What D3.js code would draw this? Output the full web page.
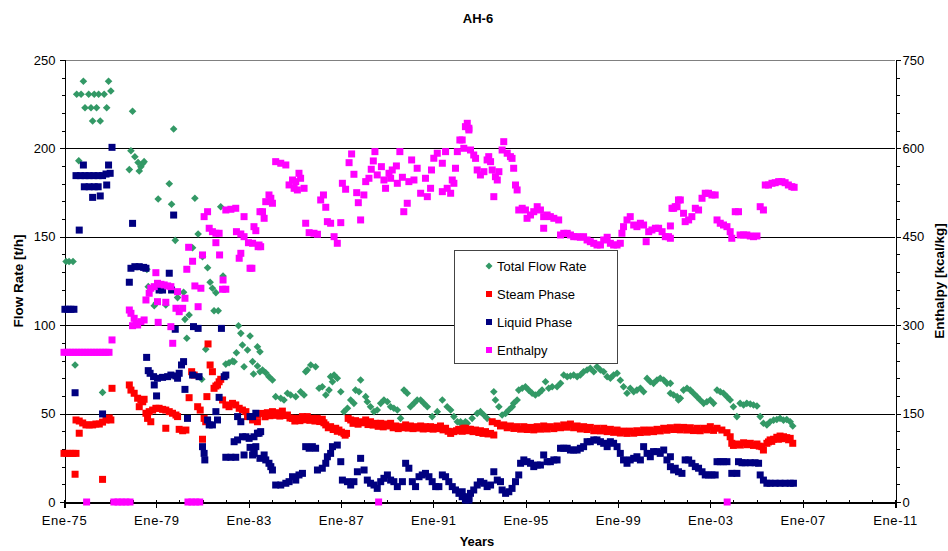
<!DOCTYPE html>
<html>
<head>
<meta charset="utf-8">
<script src="https://cdn.jsdelivr.net/npm/d3@7/dist/d3.min.js"></script>
<style>
  html, body { margin: 0; padding: 0; background: #fff; }
  svg text { font-family: "Liberation Sans", Arial, sans-serif; fill: #000; }
</style>
</head>
<body>
<svg id="chart" width="948" height="551"></svg>
<script>
// Well AH-6: flow rates (t/h, left axis) and enthalpy (kcal/kg, right axis), by decimal year.

const chartTitle = "AH-6";
const seriesNames = ["Total Flow Rate", "Steam Phase", "Liquid Phase", "Enthalpy"];
const xTickYears = [1975, 1979, 1983, 1987, 1991, 1995, 1999, 2003, 2007, 2011];
const xTickLabels = ["Ene-75", "Ene-79", "Ene-83", "Ene-87", "Ene-91", "Ene-95", "Ene-99", "Ene-03", "Ene-07", "Ene-11"];
const flowTicks = [0, 50, 100, 150, 200, 250];
const enthalpyTicks = [0, 150, 300, 450, 600, 750];

// Total flow rate [t/h]
const totalFlow = [
[1975.09,136],[1975.22,136],[1975.39,136],[1975.48,77.5],[1975.64,193],[1975.55,230.6],[1975.74,230.6],[1975.84,238],[1975.91,223],
[1976.07,230.6],[1976.17,223],[1976.24,215.5],[1976.31,230.6],[1976.41,223],[1976.50,230.6],[1976.57,215.5],[1976.67,62],[1976.74,230.6],
[1976.85,223],[1976.93,238],[1977.03,232.5],[1977.83,188],[1977.90,198.7],[1977.97,221],[1978.07,195.3],[1978.21,192],[1978.26,187.2],
[1978.33,189.6],[1978.41,191.5],[1978.47,192.5],[1978.59,131.6],[1978.65,121.8],[1978.91,111],[1978.99,112.4],[1979.08,171.4],
[1979.41,111.4],[1979.56,180],[1979.66,168.4],[1979.75,211],[1979.82,148],[1979.92,115.6],[1980.18,118.6],[1980.24,103.3],[1980.32,92.6],
[1980.42,105.8],[1980.57,143.8],[1980.67,171.8],[1980.81,151.6],[1980.97,69.4],[1981.00,138.7],[1981.14,86.4],[1981.22,132.5],
[1981.33,124.3],[1981.43,120.9],[1981.50,108.2],[1981.58,118.4],[1981.68,108.2],[1981.79,167],[1981.89,127.8],[1982.01,78],
[1982.15,78.8],[1982.30,79.7],[1982.37,79.3],[1982.47,84.4],[1982.56,99.7],[1982.66,95.4],[1982.73,88.8],[1982.80,76.5],[1982.95,86],
[1983.06,93.9],[1983.17,79.4],[1983.21,72.4],[1983.38,76.9],[1983.38,87.8],[1983.49,85],[1983.49,73.7],[1983.60,74.7],[1983.74,73.1],
[1983.88,70.9],[1984.03,69],[1984.17,59.6],[1984.39,58.7],[1984.53,57.7],[1984.68,61.5],[1984.82,60.5],[1985.04,59.6],[1985.25,62.4],
[1985.40,60.5],[1985.47,73.7],[1985.54,74.7],[1985.69,77.5],[1985.90,76.5],[1986.05,64.3],[1986.19,65.2],[1986.34,60.5],[1986.48,63.3],
[1986.55,70.9],[1986.63,68],[1986.70,71.8],[1986.84,70],[1986.99,62.4],[1987.13,51.1],[1987.28,53],[1987.42,57.7],[1987.56,55.8],
[1987.63,63.3],[1987.78,62.4],[1987.85,69],[1988.07,59.6],[1988.14,56.7],[1988.28,53.9],[1988.43,51.1],[1988.57,52],[1988.72,55.8],
[1988.86,57.7],[1989.01,56.7],[1989.15,53.9],[1989.29,53],[1989.44,52],[1989.58,47.3],[1989.73,63.3],[1989.87,61.5],[1990.01,53.9],
[1990.16,55.8],[1990.30,57.7],[1990.45,57.7],[1990.59,55.8],[1990.74,53.9],[1990.95,48.3],[1991.17,51.1],[1991.39,57.7],[1991.60,53.9],
[1991.75,52],[1991.89,48.3],[1992.04,45.4],[1992.18,44.5],[1992.18,45.4],[1992.32,43.6],[1992.39,45.4],[1992.47,44.5],[1992.68,47.3],
[1992.90,50.1],[1993.04,51.1],[1993.19,49.2],[1993.33,47.3],[1993.62,62.4],[1993.69,57.7],[1993.84,53.9],[1993.98,49.2],[1994.13,50.1],
[1994.27,52],[1994.42,53.9],[1994.48,55.8],[1994.63,57.7],[1994.70,63.3],[1994.85,64.3],[1994.99,65.2],[1995.13,63.3],[1995.28,61.5],
[1995.42,60.5],[1995.57,61.5],[1995.71,63.3],[1995.86,68],[1996.00,64.3],[1996.15,65.2],[1996.36,65.2],[1996.51,67.1],[1996.65,71.8],
[1996.80,70.9],[1996.94,71.3],[1997.08,71.8],[1997.23,70.9],[1997.37,71.8],[1997.51,73.7],[1997.66,74.7],[1997.80,75.6],[1997.95,73.7],
[1998.09,76.5],[1998.24,74.7],[1998.38,73.7],[1998.53,70.9],[1998.67,70],[1998.81,71.8],[1998.96,72.8],[1999.10,68.9],[1999.24,65.2],
[1999.39,61.5],[1999.53,64.3],[1999.68,62.4],[1999.82,63.3],[1999.97,64.3],[2000.11,62.4],[2000.26,69.9],[2000.40,68],[2000.54,67.1],
[2000.69,69],[2000.83,70],[2000.98,69],[2001.12,67.1],[2001.27,61.5],[2001.27,67.1],[2001.41,60.5],[2001.56,59.6],[2001.62,57.7],
[2001.70,58.7],[2001.84,63.3],[2001.99,64.3],[2002.13,63.3],[2002.27,61.5],[2002.42,59.6],[2002.56,57.7],[2002.71,55.8],[2002.85,56.7],
[2003.00,57.7],[2003.14,55.8],[2003.29,63.3],[2003.43,62.4],[2003.57,61.5],[2003.72,59.6],[2003.86,57.7],[2004.00,53.9],[2004.15,48.3],
[2004.29,55.8],[2004.44,54.9],[2004.58,55.8],[2004.73,55.4],[2004.87,54.9],[2005.02,54.3],[2005.16,48.3],[2005.30,44.5],[2005.45,43.6],
[2005.59,45.4],[2005.74,46.3],[2005.88,46.7],[2006.02,47.3],[2006.17,46.3],[2006.31,46.7],[2006.46,45.4],[2006.57,43]
];

// Steam phase [t/h]
const steamPhase = [
[1975.00,27.5],[1975.13,27.5],[1975.26,27.5],[1975.39,27.5],[1975.52,27.5],[1975.48,15.7],[1975.66,38.9],[1975.52,46.4],[1975.66,45.8],
[1975.81,44.7],[1975.95,43.6],[1976.09,43.6],[1976.24,43.6],[1976.38,44.1],[1976.53,44.1],[1976.67,45.2],[1976.67,12.8],[1976.82,46.4],
[1976.96,47.5],[1977.03,46.4],[1977.08,64.3],[1977.83,66.2],[1977.90,63.3],[1978.04,61.5],[1978.19,58.7],[1978.26,53.9],[1978.33,57.7],
[1978.41,56.7],[1978.47,58.1],[1978.55,50.2],[1978.62,47.3],[1978.69,51.1],[1978.76,45.4],[1978.84,52],[1978.98,53],[1979.12,53],
[1979.27,52.4],[1979.41,52],[1979.41,41.7],[1979.56,51.1],[1979.70,50.2],[1979.85,49.2],[1979.92,48.3],[1979.99,41.1],[1980.14,40.3],
[1980.28,40.7],[1980.42,59],[1980.53,73.7],[1980.64,71.8],[1980.79,53.9],[1980.90,52],[1981.00,35.5],[1981.07,47.3],[1981.14,45.4],
[1981.19,59.6],[1981.24,89.4],[1981.33,77.5],[1981.43,73.7],[1981.50,64.3],[1981.58,65.6],[1981.65,66.2],[1981.72,68],[1981.79,69.4],
[1981.87,57.7],[1982.01,54.9],[1982.15,53.9],[1982.30,55.8],[1982.44,54.9],[1982.59,53],[1982.73,52],[1982.88,51.1],[1982.95,48.3],
[1983.17,46.4],[1983.17,48.3],[1983.38,45.4],[1983.38,49.2],[1983.60,50.1],[1983.81,50.5],[1984.03,51.1],[1984.25,50.5],[1984.46,51.4],
[1984.68,49.2],[1984.90,47.3],[1985.11,47.3],[1985.33,48.3],[1985.54,48.3],[1985.76,47.3],[1985.97,47.3],[1986.19,46.8],[1986.34,43.6],
[1986.55,42.6],[1986.77,41.7],[1986.91,40.7],[1987.13,38.8],[1987.24,38.8],[1987.31,47.3],[1987.42,46.4],[1987.63,46],[1987.85,45.4],
[1988.07,46.4],[1988.28,45.4],[1988.50,44.5],[1988.72,44.5],[1988.93,44.1],[1989.15,44.5],[1989.37,43],[1989.58,42.6],[1989.80,43.6],
[1990.01,43],[1990.23,42.6],[1990.45,43],[1990.66,42.6],[1990.88,42.6],[1991.10,42.2],[1991.31,43],[1991.53,41.7],[1991.75,38.8],
[1991.89,39.8],[1992.10,41.1],[1992.18,40.7],[1992.32,41.7],[1992.39,41.7],[1992.54,41.1],[1992.61,41.1],[1992.83,40.7],[1993.04,40.3],
[1993.26,39.8],[1993.48,38.8],[1993.62,37.9],[1993.55,45.4],[1993.77,44.5],[1994.05,43.6],[1994.34,43],[1994.63,42.6],[1994.92,42.6],
[1995.21,42.2],[1995.50,42.6],[1995.78,43],[1996.07,42.6],[1996.36,43],[1996.65,43.6],[1996.94,44.1],[1997.23,43],[1997.51,42.6],
[1997.80,42.2],[1998.09,41.7],[1998.38,41.7],[1998.67,41.1],[1998.96,40.7],[1999.24,40.1],[1999.53,40.1],[1999.82,40.3],[2000.11,40.7],
[2000.40,40.7],[2000.69,41.1],[2000.98,41.7],[2001.27,42],[2001.56,42.3],[2001.84,42.2],[2002.13,42],[2002.42,41.7],[2002.71,41.7],
[2003.00,42.6],[2003.29,41.7],[2003.50,40.7],[2003.72,39.2],[2003.86,36.9],[2003.93,33.2],[2004.15,32.8],[2004.44,33.5],[2004.73,33.2],
[2005.02,32.8],[2005.23,31.3],[2005.30,29.4],[2005.45,33.2],[2005.59,35.1],[2005.74,35.5],[2005.88,36.6],[2006.02,37.3],[2006.17,36.9],
[2006.31,36.4],[2006.46,36],[2006.57,33.2],
// lower edge of the steam band, read between the samples above
[1983.71,48.2],[1983.92,48.8],[1984.14,49],[1984.35,48.6],[1984.57,48.9],[1984.79,47.5],[1985.00,45.8],[1985.22,46],[1985.44,46.5],
[1985.65,46.2],[1985.87,45.8],[1986.08,45.5],[1986.26,44.8],[1986.45,42],[1986.66,41],[1986.84,40],[1987.02,39.5],[1987.18,37.8],
[1987.52,44.5],[1987.74,44],[1987.96,44.8],[1988.17,43.8],[1988.39,43.5],[1988.61,42.8],[1988.83,42.5],[1989.04,43],[1989.26,42],
[1989.48,41.5],[1989.69,42],[1989.91,41.8],[1990.12,41.5],[1990.34,41.8],[1990.56,41.3],[1990.77,41.5],[1990.99,41.2],[1991.20,41.5],
[1991.42,40.8],[1991.64,40],[1992.00,40.3],[1992.25,40],[1992.47,40.3],[1992.72,39.8],[1992.97,39.3],[1993.15,38.8],[1993.37,38.5],
[1993.91,43],[1994.20,42],[1994.49,41.6],[1994.78,41.2],[1995.07,41],[1995.35,40.8],[1995.64,41.2],[1995.93,41.3],[1996.22,41.5],
[1996.51,42],[1996.80,42.3],[1997.08,42],[1997.37,41.3],[1997.66,41],[1997.95,40.3],[1998.24,40.2],[1998.53,39.8],[1998.81,39.4],
[1999.10,39],[1999.39,38.8],[1999.68,38.9],[1999.97,39.3],[2000.26,39.5],[2000.54,39.8],[2000.83,40.2],[2001.12,40.6],[2001.41,41],
[2001.70,40.8],[2001.99,40.7],[2002.27,40.4],[2002.56,40.3],[2002.85,40.8],[2003.14,40.5],[2004.00,32],[2004.30,32.2],[2004.60,32.4],
[2004.87,32],[2005.12,31.6],[2005.52,34],[2005.66,34.3],[2005.95,35.5],[2006.10,35.8],[2006.39,35.2]
];

// Liquid phase [t/h]
const liquidPhase = [
[1975.04,109],[1975.17,109],[1975.30,109],[1975.43,109],[1975.48,61.8],[1975.66,153.8],[1975.84,190.6],[1975.52,184.6],[1975.71,184.6],
[1975.91,184.6],[1976.09,184.6],[1976.29,184.6],[1976.48,184.6],[1976.67,184.6],[1976.67,49.8],[1976.82,185.5],[1976.85,179.3],
[1977.00,185.9],[1976.93,190.6],[1975.88,178.3],[1976.09,178.3],[1976.31,178.3],[1976.48,178.3],[1976.24,172.3],[1976.57,173.1],
[1977.08,200.6],[1977.97,157.6],[1977.83,124.3],[1977.90,132.2],[1978.07,133.1],[1978.26,133.1],[1978.45,132.7],[1978.55,132.2],
[1979.56,129.4],[1979.75,162.3],[1978.58,81.8],[1978.65,74.3],[1978.73,72.8],[1978.88,70.9],[1979.05,70],[1979.27,70.5],[1979.49,70.9],
[1979.63,71.8],[1979.85,71.3],[1979.92,70],[1979.99,72.8],[1980.09,77.5],[1980.18,79.4],[1978.91,66.2],[1979.01,60],[1979.12,119.9],
[1979.27,119.9],[1979.66,119.9],[1979.82,97.7],[1980.24,63.7],[1980.35,47.3],[1980.61,99.2],[1980.81,98.2],[1980.57,71.8],[1980.85,70.9],
[1981.00,31.3],[1981.07,27.5],[1981.10,23.8],[1981.22,46.4],[1981.29,43.6],[1981.43,43.6],[1981.58,51.1],[1981.65,46.4],[1981.72,59.2],
[1981.94,70.9],[1982.01,71.8],[1981.82,98.2],[1982.01,25.3],[1982.23,25.3],[1982.44,25.3],[1982.37,34.1],[1982.52,35.1],[1982.73,36.9],
[1982.88,36.9],[1983.02,36],[1982.80,26.6],[1983.06,30.9],[1983.23,27.5],[1983.38,38.9],[1983.49,24.7],[1982.52,48.3],[1982.66,45.4],
[1983.06,48.3],[1983.31,50.2],[1983.17,48.3],[1983.23,36.9],[1983.45,38.9],[1983.52,39.8],[1983.31,31.3],[1983.23,28.5],[1983.17,26.6],
[1983.67,26.6],[1983.74,23.8],[1983.88,21.9],[1983.96,20],[1984.03,18.1],[1984.17,9.6],[1984.39,9.6],[1984.61,10.6],[1984.75,11.5],
[1984.90,14.3],[1985.04,12.4],[1985.18,15.3],[1985.33,16.2],[1985.47,31.3],[1985.62,30.4],[1985.76,31.3],[1985.90,30.4],[1985.98,18.1],
[1986.19,19.1],[1986.34,21.9],[1986.41,25.6],[1986.55,27.5],[1986.63,31.3],[1986.84,32.2],[1986.99,22.8],[1987.06,12.4],[1987.28,11.5],
[1987.42,9.6],[1987.56,11.5],[1987.71,17.1],[1987.85,24.7],[1988.00,18.1],[1988.14,12.4],[1988.28,10.6],[1988.43,9.6],[1988.57,7.7],
[1988.72,11.5],[1988.86,13.4],[1989.01,15.3],[1989.15,12.4],[1989.29,11.5],[1989.44,8.7],[1989.66,11.5],[1989.80,21.9],[1989.94,19.1],
[1990.09,11.5],[1990.23,8.7],[1990.38,14.3],[1990.52,15.3],[1990.66,16.2],[1990.81,14.3],[1990.95,11.5],[1991.10,8.7],[1991.24,8.7],
[1991.39,15.3],[1991.53,14.3],[1991.67,11.5],[1991.82,8.7],[1991.96,6.8],[1992.11,4.9],[1992.25,3],[1992.25,5.8],[1992.39,1.1],
[1992.39,3],[1992.54,2.1],[1992.54,1.1],[1992.61,4.9],[1992.75,6.8],[1992.90,9.6],[1993.04,11.5],[1993.19,10.6],[1993.33,8.7],
[1993.48,9.6],[1993.62,17.1],[1993.77,12.4],[1993.91,11.5],[1993.98,6.8],[1994.13,4.9],[1994.27,5.8],[1994.41,7.7],[1994.56,11.5],
[1994.70,15.3],[1994.78,21.9],[1994.92,23.8],[1995.06,22.8],[1995.21,21.9],[1995.35,20],[1995.50,20.9],[1995.64,20.9],[1995.78,26.6],
[1995.93,22.8],[1996.07,22.8],[1996.22,23.8],[1996.36,23.8],[1996.51,30.4],[1996.65,30.4],[1996.80,30.4],[1996.94,29.4],[1997.08,29.4],
[1997.23,29.4],[1997.37,30.4],[1997.51,31.3],[1997.66,34.1],[1997.80,34.1],[1997.95,35.1],[1998.09,35.1],[1998.24,34.1],[1998.38,33.2],
[1998.53,31.3],[1998.67,34.1],[1998.81,33.2],[1998.96,31.3],[1999.10,27.5],[1999.24,23.8],[1999.39,21.9],[1999.53,23.8],[1999.68,24.7],
[1999.82,25.6],[1999.97,23.8],[2000.11,31.3],[2000.26,27.5],[2000.40,25.6],[2000.54,28.5],[2000.69,28.5],[2000.83,27.5],[2000.98,29.4],
[2001.12,23.8],[2001.27,20],[2001.27,25.6],[2001.41,18.1],[2001.48,19.1],[2001.62,17.1],[2001.77,16.2],[2001.91,23.8],[2002.06,23.8],
[2002.20,21.9],[2002.35,20],[2002.49,19.1],[2002.64,17.1],[2002.78,15.3],[2002.92,15.3],[2003.07,15.3],[2003.21,15.3],[2003.29,22.8],
[2003.43,22.8],[2003.57,22.8],[2003.72,22.8],[2003.93,16.2],[2004.15,16.2],[2004.22,22.8],[2004.37,22.2],[2004.51,22.2],[2004.73,22.2],
[2004.94,22.2],[2005.09,21.9],[2005.16,15.3],[2005.30,12.4],[2005.45,10.6],[2005.59,10.6],[2005.81,10.6],[2006.02,10.6],[2006.24,10.6],
[2006.46,10.6],[2006.60,10.6]
];

// Enthalpy [kcal/kg]
const enthalpy = [
[1975.00,254],[1975.13,254],[1975.26,254],[1975.39,254],[1975.52,254],[1975.65,254],[1975.78,254],[1975.91,254],[1976.04,254],
[1976.17,254],[1976.30,254],[1976.43,254],[1976.56,254],[1976.69,254],[1976.82,254],[1976.95,254],[1977.08,275],[1975.98,0],
[1977.16,0],[1977.34,0],[1977.51,0],[1977.68,0],[1977.86,0],[1980.37,0],[1980.54,0],[1980.71,0],[1980.88,0],[1988.63,0],[2003.73,0],
[1977.83,325.8],[1977.90,320.2],[1978.04,311.7],[1978.12,303.2],[1977.97,299.2],[1978.19,300.4],[1978.33,306],[1978.47,308.9],
[1978.55,342.8],[1978.69,354.2],[1978.76,362.7],[1978.91,365.4],[1979.05,371.1],[1979.05,339.9],[1979.08,304.9],[1979.20,369.4],
[1979.34,368.3],[1979.49,366.6],[1979.63,365.4],[1979.63,297.5],[1979.71,269.3],[1978.98,389.1],[1979.41,338.9],[1979.92,356.9],
[1980.24,345.7],[1979.85,328.7],[1979.99,322.9],[1980.14,328.7],[1980.32,394.9],[1980.40,432.2],[1980.57,408.5],[1981.00,419.2],
[1980.67,366.6],[1980.93,362.7],[1980.81,331.4],[1981.07,484.2],[1981.22,492.6],[1981.29,464.5],[1981.43,458.7],[1981.58,456],
[1981.58,440],[1981.72,456],[1981.74,419.2],[1981.89,376.7],[1981.87,361],[1982.01,361],[1982.01,495.5],[1982.23,496.7],[1982.44,498.4],
[1982.80,484.2],[1982.47,458.7],[1982.66,454.8],[1982.66,422],[1982.80,450.2],[1982.99,440],[1983.06,396.6],[1983.23,467.2],
[1983.31,460.4],[1983.49,492.6],[1983.41,433.2],[1982.59,413.6],[1983.17,439],[1983.45,436.1],[1983.52,433.2],[1983.14,396.6],
[1983.60,492.6],[1983.67,481.4],[1983.74,509.6],[1983.88,521],[1983.96,515.4],[1984.03,506.9],[1984.17,577.5],[1984.39,574.8],
[1984.61,571.9],[1984.75,538],[1984.90,546.4],[1985.04,543.6],[1985.18,557.8],[1985.25,549.3],[1985.40,532.3],[1984.97,532.3],
[1985.11,529.5],[1985.47,473],[1985.62,457],[1985.83,456],[1985.98,454.3],[1986.12,512.5],[1986.24,521],[1986.34,500.1],[1986.41,475.7],
[1986.55,473],[1986.70,450.2],[1986.84,439],[1986.99,474],[1987.06,540.8],[1987.20,530.7],[1987.35,575.8],[1987.46,590.6],[1987.56,556.1],
[1987.68,524.9],[1987.75,507.9],[1987.85,478.6],[1987.99,521],[1988.07,543.6],[1988.21,549.3],[1988.31,564.6],[1988.40,578.7],
[1988.47,594.5],[1988.57,555],[1988.75,569],[1988.86,546.4],[1988.93,532.3],[1989.08,557.8],[1989.22,563.4],[1989.40,570.2],
[1989.55,594.5],[1989.15,549.3],[1989.44,540.8],[1989.66,551],[1989.87,506.9],[1989.72,492.6],[1989.94,543.6],[1990.16,546.4],
[1990.30,566.3],[1990.45,523.9],[1990.66,549.3],[1990.74,518.1],[1990.88,532.3],[1990.92,563.4],[1990.06,580.4],[1991.02,583.3],
[1991.17,591.8],[1991.39,574.8],[1991.53,594.5],[1991.39,526.6],[1991.60,532.3],[1991.75,523.9],[1991.82,546.4],[1991.89,540.8],
[1991.96,566.3],[1992.04,594.5],[1992.15,614.3],[1992.32,600.2],[1992.39,636.9],[1992.47,642.6],[1992.54,634.2],[1992.54,631.3],
[1992.25,614.3],[1992.61,597.3],[1992.75,588.8],[1992.83,583.1],[1992.90,563.4],[1993.04,554.9],[1993.19,560.5],[1993.33,580.4],
[1993.40,586],[1993.48,577.5],[1993.55,563.4],[1993.62,518.1],[1993.69,552],[1993.77,546.4],[1993.84,560.5],[1993.98,597.3],
[1994.05,611.4],[1994.20,591.8],[1994.34,586],[1994.41,583.1],[1994.48,566.3],[1994.56,537.9],[1994.63,529.5],[1994.70,495.5],
[1994.85,498.4],[1994.99,495.5],[1995.06,481.4],[1995.21,487],[1995.35,492.6],[1995.50,501.1],[1995.64,495.5],[1995.78,484.2],
[1995.78,464.5],[1995.93,487],[1996.07,484.2],[1996.22,481.4],[1996.43,478.6],[1996.51,453.1],[1996.65,455.9],[1996.80,455.9],
[1996.94,453.1],[1997.08,450.2],[1997.23,450.2],[1997.37,449.2],[1997.51,450.2],[1997.66,444.6],[1997.80,441.7],[1997.95,438.9],
[1998.09,436.1],[1998.24,436.1],[1998.38,444.6],[1998.53,449.2],[1998.67,439],[1998.81,436.1],[1998.96,436.1],[1999.10,439],
[1999.17,456],[1999.24,467.2],[1999.39,478.6],[1999.53,484.2],[1999.68,470],[1999.82,467.2],[1999.97,473],[2000.11,470],[2000.22,441.7],
[2000.33,458.7],[2000.47,461.6],[2000.62,464.5],[2000.76,464.5],[2000.91,458.7],[2001.05,450.2],[2001.19,450.2],[2001.27,468.4],
[2001.27,447.5],[2001.34,498.4],[2001.41,498.4],[2001.48,501.1],[2001.56,501.1],[2001.62,512.5],[2001.70,512.5],[2001.84,489.9],
[2001.91,475.7],[2002.06,478.6],[2002.20,484.2],[2002.35,498.4],[2002.49,495.5],[2002.64,515.4],[2002.78,523.9],[2002.92,523.9],
[2003.07,521],[2003.21,521],[2003.29,478.6],[2003.43,473],[2003.57,470],[2003.72,467.2],[2003.86,458.7],[2003.93,447.5],[2004.08,492.6],
[2004.22,492.6],[2004.29,453.1],[2004.44,453.1],[2004.58,453.1],[2004.73,451.4],[2004.87,450.2],[2005.02,451.4],[2005.16,501.1],
[2005.30,495.5],[2005.38,537.9],[2005.52,537.9],[2005.67,540.8],[2005.81,541.8],[2005.96,543.6],[2006.10,543.6],[2006.24,541.8],
[2006.38,537.9],[2006.53,535.1],[2006.63,534]
];

const colors = { total: "#339966", steam: "#ff0000", liquid: "#000080", enthalpy: "#ff00ff" };
const font = '"Liberation Sans", Arial, sans-serif';

const svg = d3.select("#chart");
const plot = { left: 64, right: 895, top: 60, bottom: 502 };

const x = d3.scaleLinear().domain([1975, 2011]).range([plot.left, plot.right]);
const yFlow = d3.scaleLinear().domain([0, 250]).range([plot.bottom, plot.top]);
const yEnth = d3.scaleLinear().domain([0, 750]).range([plot.bottom, plot.top]);

// Horizontal gridlines on major flow ticks
svg.append("g").selectAll("line").data(flowTicks.filter(v => v > 0)).join("line")
  .attr("x1", plot.left).attr("x2", plot.right)
  .attr("y1", d => Math.round(yFlow(d)) + 0.5).attr("y2", d => Math.round(yFlow(d)) + 0.5)
  .attr("stroke", d => d === 250 ? "#808080" : "#000").attr("stroke-width", 1);

// Left axis
const gL = svg.append("g").attr("transform", `translate(${plot.left + 0.5},0)`)
  .call(d3.axisLeft(yFlow).tickValues(flowTicks).tickSize(5).tickPadding(4));
const gLm = svg.append("g").attr("transform", `translate(${plot.left + 0.5},0)`)
  .call(d3.axisLeft(yFlow).tickValues(d3.range(0, 251, 10)).tickSize(3).tickFormat(""));
gLm.select(".domain").remove();

// Right axis
const gR = svg.append("g").attr("transform", `translate(${plot.right + 0.5},0)`)
  .call(d3.axisRight(yEnth).tickValues(enthalpyTicks).tickSize(5).tickPadding(2));
const gRm = svg.append("g").attr("transform", `translate(${plot.right + 0.5},0)`)
  .call(d3.axisRight(yEnth).tickValues(d3.range(0, 751, 30)).tickSize(4).tickFormat(""));
gRm.select(".domain").remove();

// Bottom axis: yearly minor ticks inside, labelled major ticks every four years
const gB = svg.append("g").attr("transform", `translate(0,${plot.bottom + 0.5})`)
  .call(d3.axisBottom(x).tickValues(xTickYears).tickSize(5).tickPadding(8)
    .tickFormat((d, i) => xTickLabels[i]));
gB.selectAll(".tick line").attr("y1", -3);
const gBm = svg.append("g").attr("transform", `translate(0,${plot.bottom + 0.5})`)
  .call(d3.axisBottom(x).tickValues(d3.range(1975, 2012, 1)).tickSize(-3).tickFormat(""));
gBm.select(".domain").remove();

[gL, gLm, gR, gRm, gB, gBm].forEach(g => {
  g.selectAll("line, path").attr("stroke", "#000").attr("shape-rendering", "crispEdges");
  g.selectAll("text").attr("font-size", 13).attr("fill", "#000").style("font-family", font);
});
gB.selectAll("text").attr("letter-spacing", 0.6);
gB.select(".domain").attr("stroke-width", 2);

// Markers
const half = 3.5;
const diamond = `M0,${-half - 0.3}L${half + 0.3},0L0,${half + 0.3}L${-half - 0.3},0Z`;

svg.append("g").selectAll("path").data(totalFlow).join("path")
  .attr("d", diamond)
  .attr("transform", d => `translate(${x(d[0])},${yFlow(d[1])})`)
  .attr("fill", colors.total);

function squares(data, yScale, color) {
  svg.append("g").selectAll("rect").data(data).join("rect")
    .attr("x", d => x(d[0]) - half).attr("y", d => yScale(d[1]) - half)
    .attr("width", half * 2).attr("height", half * 2)
    .attr("fill", color);
}
squares(steamPhase, yFlow, colors.steam);
squares(liquidPhase, yFlow, colors.liquid);
squares(enthalpy, yEnth, colors.enthalpy);

// Titles
svg.append("text").attr("x", 478).attr("y", 23).attr("text-anchor", "middle")
  .attr("font-size", 13).attr("font-weight", "bold").text(chartTitle);
svg.append("text").attr("x", 477).attr("y", 546).attr("text-anchor", "middle")
  .attr("font-size", 13).attr("font-weight", "bold").text("Years");
svg.append("text").attr("transform", `translate(23,${(plot.top + plot.bottom) / 2}) rotate(-90)`)
  .attr("text-anchor", "middle").attr("font-size", 13.5).attr("font-weight", "bold").text("Flow Rate [t/h]");
svg.append("text").attr("transform", `translate(944,${(plot.top + plot.bottom) / 2}) rotate(-90)`)
  .attr("text-anchor", "middle").attr("font-size", 13.5).attr("font-weight", "bold").text("Enthalpy [kcal/kg]");

// Legend
const legend = svg.append("g");
legend.append("rect").attr("x", 454.5).attr("y", 250.5).attr("width", 163).attr("height", 113)
  .attr("fill", "#fff").attr("stroke", "#444").attr("stroke-width", 1);
const legendColors = [colors.total, colors.steam, colors.liquid, colors.enthalpy];
seriesNames.forEach((name, i) => {
  const cy = 266 + i * 28;
  if (i === 0) {
    legend.append("path").attr("d", `M0,-3.5L3.5,0L0,3.5L-3.5,0Z`)
      .attr("transform", `translate(489,${cy})`).attr("fill", legendColors[i]);
  } else {
    legend.append("rect").attr("x", 486).attr("y", cy - 3).attr("width", 6).attr("height", 6)
      .attr("fill", legendColors[i]);
  }
  legend.append("text").attr("x", 497).attr("y", cy + 4.5).attr("font-size", 13).text(name);
});
</script>
</body>
</html>
